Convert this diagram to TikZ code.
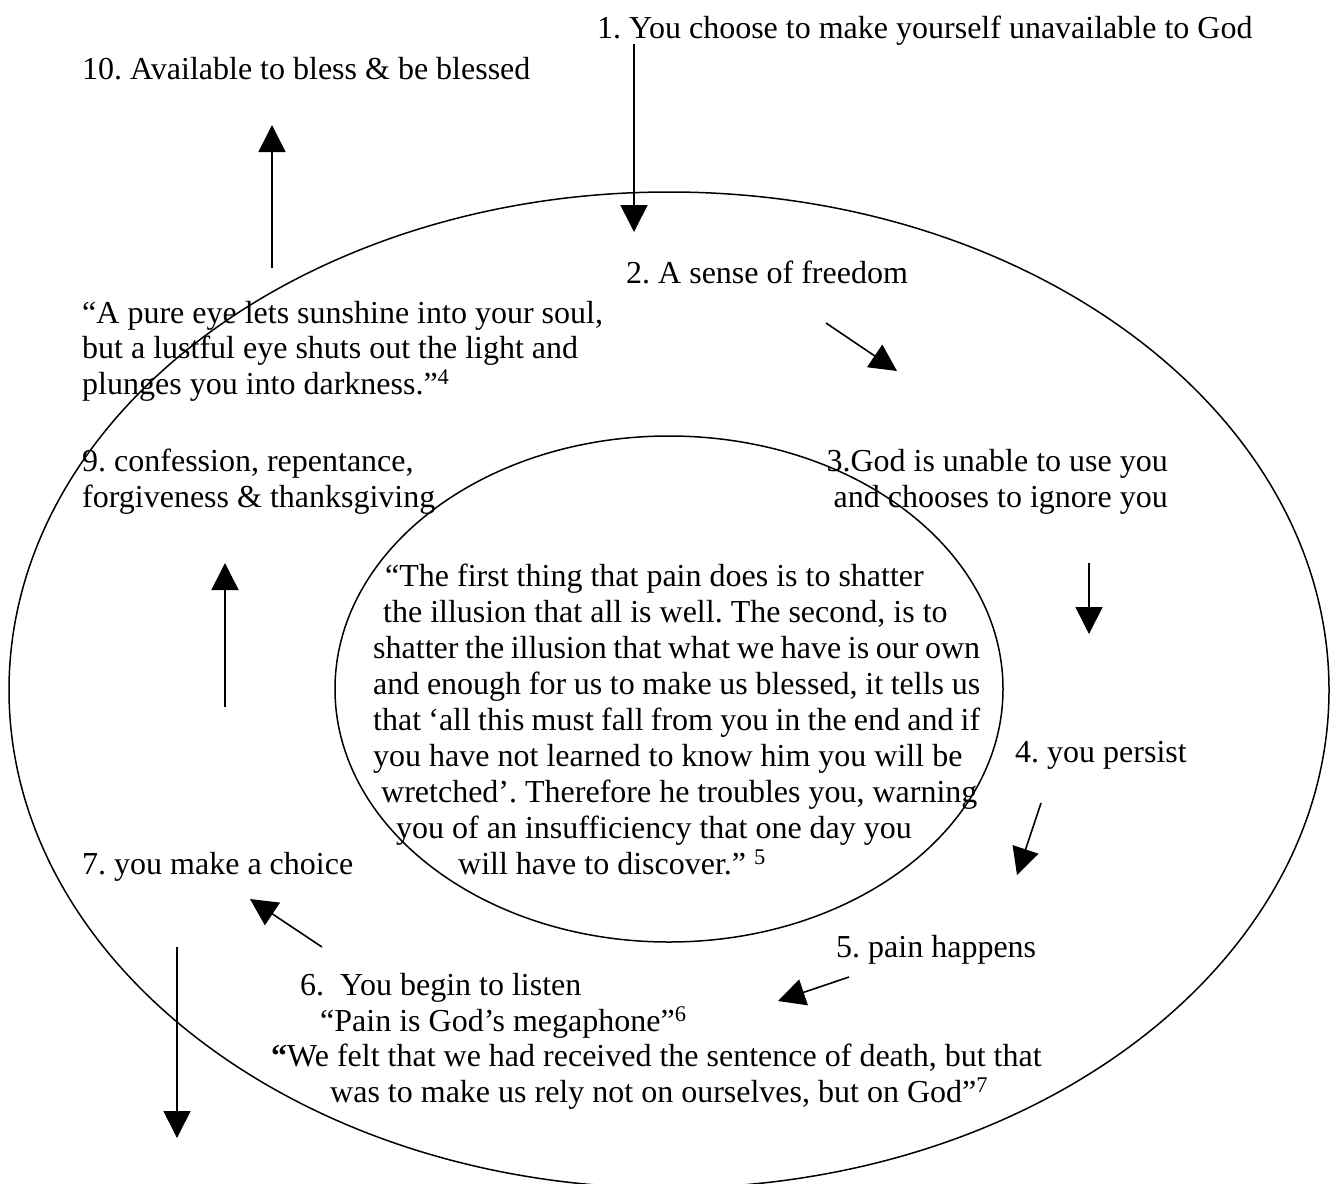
\documentclass[tikz,border=0pt]{standalone}
\usepackage{fontspec}
\setmainfont{Liberation Serif}
\usetikzlibrary{arrows.meta}
\begin{document}
\frenchspacing
\begin{tikzpicture}[x=1pt,y=-1pt,
  lbl/.style={anchor=base west, inner sep=0pt, font=\fontsize{32}{36}\selectfont\frenchspacing},
  lblr/.style={lbl, anchor=base east},
  arr/.style={line width=1.6pt, -{Triangle[length=27pt,width=27pt]}},
  ring/.style={line width=1.5pt}]
\path[use as bounding box, fill=white] (0,0) rectangle (1330,1183);

% ellipses
\draw[ring] (669,690) ellipse [x radius=660pt, y radius=498pt];
\draw[ring] (669,689) ellipse [x radius=334pt, y radius=253pt];

% outer texts
\node[lbl] (t1) at (597,38) {1. You choose to make yourself unavailable to God};
\node[lbl] (t10) at (82,79) {10. Available to bless \& be blessed};
\node[lbl] (t2) at (626,283) {2. A sense of freedom};
\node[lbl] (q4a) at (82,323) {“A pure eye lets sunshine into your soul,};
\node[lbl] (q4b) at (82,358) {but a lustful eye shuts out the light and};
\node[lbl] (q4c) at (82,394) {plunges you into darkness.”\textsuperscript{4}};
\node[lbl] (t9a) at (82,471) {9. confession, repentance,};
\node[lbl] (t9b) at (82,507) {forgiveness \& thanksgiving};
\node[lblr] (t3a) at (1168,471) {3.God is unable to use you};
\node[lblr] (t3b) at (1168,507) {and chooses to ignore you};
\node[lbl] (t4) at (1015,762) {4. you persist};
\node[lbl] (t7) at (82,874) {7. you make a choice};
\node[lbl] (t5) at (836,957) {5. pain happens};
\node[lbl] (t6a) at (300,995) {6.\ \ You begin to listen};
\node[lbl] (t6b) at (320,1031) {“Pain is God’s megaphone”\textsuperscript{6}};
\node[lbl] (t6c) at (271,1066) {\textbf{“}We felt that we had received the sentence of death, but that};
\node[lbl] (t6d) at (330,1102) {was to make us rely not on ourselves, but on God”\textsuperscript{7}};

% inner quote
\node[lbl] (c1) at (385,586) {“The first thing that pain does is to shatter};
\node[lbl] (c2) at (383,622) {the illusion that all is well. The second, is to};
\node[lbl] (c3) at (373,658) {\makebox[607pt][s]{shatter the illusion that what we have is our own}};
\node[lbl] (c4) at (373,694) {\makebox[607pt][s]{and enough for us to make us blessed, it tells us}};
\node[lbl] (c5) at (373,730) {\makebox[607pt][s]{that ‘all this must fall from you in the end and if}};
\node[lbl] (c6) at (373,766) {you have not learned to know him you will be};
\node[lbl] (c7) at (381,802) {wretched’. Therefore he troubles you, warning};
\node[lbl] (c8) at (396,838) {you of an insufficiency that one day you};
\node[lbl] (c9) at (458,874) {will have to discover.” \textsuperscript{5}};

% arrows
\coordinate (a1s) at (634,44);   \coordinate (a1e) at (634,232);
\coordinate (a10s) at (272,268); \coordinate (a10e) at (272,125);
\coordinate (a2s) at (826,323);  \coordinate (a2e) at (897,371);
\coordinate (a3s) at (1089,563); \coordinate (a3e) at (1089,634);
\coordinate (a4s) at (1041,803); \coordinate (a4e) at (1017,875);
\coordinate (a5s) at (849,977);  \coordinate (a5e) at (778,1001);
\coordinate (a6s) at (322,947);  \coordinate (a6e) at (250,899);
\coordinate (a7s) at (177,947);  \coordinate (a7e) at (177,1138);
\coordinate (a9s) at (225,707);  \coordinate (a9e) at (225,563);
\foreach \n in {1,10,2,3,4,5,6,7,9}
  \draw[arr] (a\n s) -- (a\n e);
\end{tikzpicture}
\end{document}
